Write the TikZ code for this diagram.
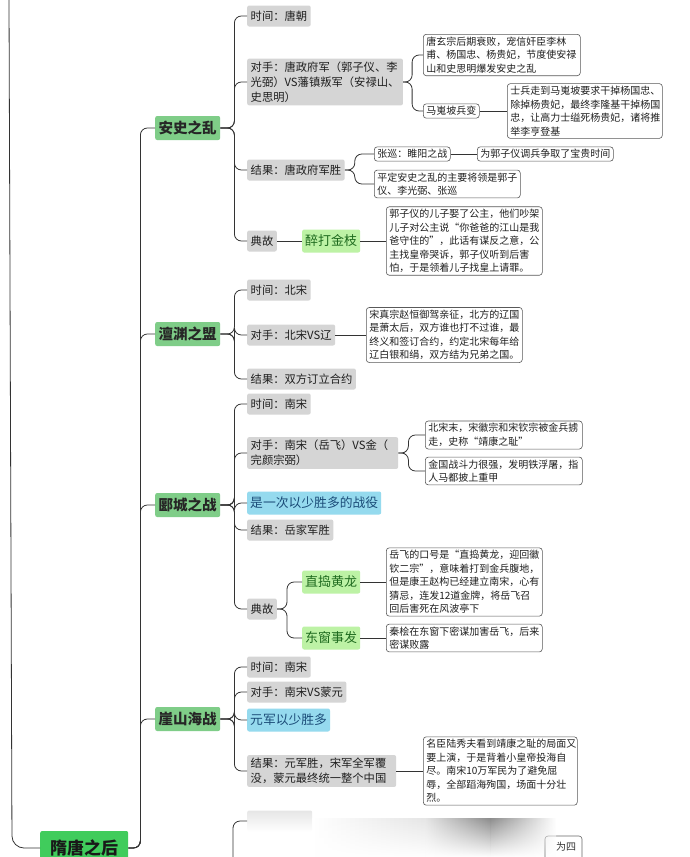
\documentclass[tikz,border=0pt]{standalone}
\usepackage{fontspec}
\usetikzlibrary{fadings}
\setmainfont{Noto Sans CJK SC}
\definecolor{tgreen}{HTML}{7FCD88}
\definecolor{rgreen}{HTML}{40CC5C}
\definecolor{lgreen}{HTML}{BDF2A5}
\definecolor{dgreen}{HTML}{1E6A1E}
\definecolor{lblue}{HTML}{95DAEE}
\definecolor{dblue}{HTML}{1B4C78}
\definecolor{lgray}{HTML}{D5D5D5}
\begin{document}
\begin{tikzpicture}[x=1pt,y=-1pt,
  conn/.style={draw=black!80, line width=0.8pt, rounded corners=7pt},
  title/.style={anchor=west, fill=tgreen, rounded corners=2pt, font=\fontsize{14.5}{16}\selectfont\bfseries, text=black!85, inner xsep=3.5pt, inner ysep=3pt, minimum height=24pt},
  rootbox/.style={anchor=west, fill=rgreen, rounded corners=2pt, font=\fontsize{17}{19}\selectfont\bfseries, text=black!90, inner xsep=10pt, minimum height=34pt},
  lbl/.style={anchor=west, fill=lgray, rounded corners=2pt, font=\fontsize{11.3}{15}\selectfont, text=black!88, align=left, inner xsep=3.5pt, inner ysep=3pt, minimum height=21pt},
  note/.style={anchor=west, draw=black!65, fill=white, rounded corners=3pt, line width=0.6pt, font=\fontsize{10}{13.5}\selectfont, text=black!88, align=left, inner xsep=3pt, inner ysep=2.5pt},
  sub/.style={anchor=west, fill=lgreen, rounded corners=2pt, font=\fontsize{13}{15}\selectfont, text=dgreen, inner sep=3pt, minimum height=23pt},
  hl/.style={anchor=west, fill=lblue, rounded corners=2pt, font=\fontsize{12.8}{15}\selectfont, text=dblue, inner sep=3pt, minimum height=23pt},
]
\useasboundingbox (0,0) rectangle (690,857);
\clip (0,0) rectangle (690,857);
\fill[white] (0,0) rectangle (690,857);

% root
\node[rootbox] (root) at (40,848) {隋唐之后};
\coordinate (top) at (9,0);
\draw[conn, rounded corners=12pt] (top) -- (12,848) -- (root.west);

% ===== 安史之乱 =====
\node[title] (ash) at (155,128) {安史之乱};
\node[lbl] (ash1) at (247,16) {时间：唐朝};
\node[lbl] (ash2) at (247,82) {对手：唐政府军（郭子仪、李\\光弼）VS藩镇叛军（安禄山、\\史思明）};
\node[lbl] (ash3) at (247,170) {结果：唐政府军胜};
\node[lbl] (ash4) at (247,241) {典故};
\node[note, text width=151pt] (a1) at (423,55) {唐玄宗后期衰败，宠信奸臣李林\\甫、杨国忠、杨贵妃，节度使安禄\\山和史思明爆发安史之乱};
\node[note] (a2) at (423,111) {马嵬坡兵变};
\node[note, text width=149pt] (a3) at (507,111) {士兵走到马嵬坡要求干掉杨国忠、\\除掉杨贵妃，最终李隆基干掉杨国\\忠，让高力士缢死杨贵妃，诸将推\\举李亨登基};
\node[note] (b1) at (374,154) {张巡：睢阳之战};
\node[note] (b2) at (477,154) {为郭子仪调兵争取了宝贵时间};
\node[note, text width=140pt] (b3) at (374,184) {平定安史之乱的主要将领是郭子\\仪、李光弼、张巡};
\node[sub] (c1) at (302,241) {醉打金枝};
\node[note, text width=150pt] (c2) at (386,241) {郭子仪的儿子娶了公主，他们吵架\\儿子对公主说“你爸爸的江山是我\\爸守住的”，此话有谋反之意，公\\主找皇帝哭诉，郭子仪听到后害\\怕，于是领着儿子找皇上请罪。};

% ===== 澶渊之盟 =====
\node[title] (cy) at (155,334) {澶渊之盟};
\node[lbl] (cy1) at (247,290) {时间：北宋};
\node[lbl] (cy2) at (247,335) {对手：北宋VS辽};
\node[lbl] (cy3) at (247,379) {结果：双方订立合约};
\node[note, text width=150pt] (d1) at (366,335) {宋真宗赵恒御驾亲征，北方的辽国\\是萧太后，双方谁也打不过谁，最\\终义和签订合约，约定北宋每年给\\辽白银和绢，双方结为兄弟之国。};

% ===== 郾城之战 =====
\node[title] (yc) at (155,505) {郾城之战};
\node[lbl] (yc1) at (247,404) {时间：南宋};
\node[lbl, text width=144pt] (yc2) at (247,453) {对手：南宋（岳飞）VS金（\\完颜宗弼）};
\node[hl] (yc3) at (247,503) {是一次以少胜多的战役};
\node[lbl] (yc4) at (247,530) {结果：岳家军胜};
\node[lbl] (yc5) at (247,609) {典故};
\node[note, text width=151pt] (e1) at (425,435) {北宋末，宋徽宗和宋钦宗被金兵掳\\走，史称“靖康之耻”};
\node[note, text width=151pt] (e2) at (425,471) {金国战斗力很强，发明铁浮屠，指\\人马都披上重甲};
\node[sub] (f1) at (302,582) {直捣黄龙};
\node[sub] (f2) at (302,638) {东窗事发};
\node[note, text width=150pt] (g1) at (386,582) {岳飞的口号是“直捣黄龙，迎回徽\\钦二宗”，意味着打到金兵腹地，\\但是康王赵构已经建立南宋，心有\\猜忌，连发12道金牌，将岳飞召\\回后害死在风波亭下};
\node[note, text width=150pt] (g2) at (386,638) {秦桧在东窗下密谋加害岳飞，后来\\密谋败露};

% ===== 崖山海战 =====
\node[title] (ys) at (155,719) {崖山海战};
\node[lbl] (ys1) at (247,667) {时间：南宋};
\node[lbl] (ys2) at (247,692) {对手：南宋VS蒙元};
\node[hl] (ys3) at (247,720) {元军以少胜多};
\node[lbl, text width=142pt] (ys4) at (247,771) {结果：元军胜，宋军全军覆\\没，蒙元最终统一整个中国};
\node[note, text width=148pt] (h1) at (423,771) {名臣陆秀夫看到靖康之耻的局面又\\要上演，于是背着小皇帝投海自\\尽。南宋10万军民为了避免屈\\辱，全部蹈海殉国，场面十分壮\\烈。};

% ===== blurred bottom part =====
\node[anchor=west, fill=lgray!60, rounded corners=2pt, minimum width=65pt, minimum height=21pt, inner sep=0pt, path fading=south] (blur1) at (247,821) {};
\coordinate (below) at (233,857);
\draw[conn] (below) |- (blur1.west);
\draw[black!60, line width=0.6pt, rounded corners=3pt] (545,880) -- (545,836) -- (582,836) -- (582,880);
\node[anchor=west, font=\fontsize{10}{12}\selectfont, text=black!80, inner sep=0pt] (blurtxt) at (556,847) {为四};
\shade[left color=white, right color=black!10, path fading=south] (312,818) rectangle (425,857);
\shade[left color=black!10, right color=black!45, path fading=south] (425,818) rectangle (490,857);
\shade[left color=black!45, right color=white, path fading=south] (490,818) rectangle (556,857);

% ===== connectors =====
\foreach \c in {ash,cy,yc,ys} \draw[conn] (root.east) -- ++(12,0) |- (\c.west);
\foreach \c in {ash1,ash2,ash3,ash4} \draw[conn] (ash.east) -- ++(14,0) |- (\c.west);
\foreach \c in {a1,a2} \draw[conn] (ash2.east) -- ++(9,0) |- (\c.west);
\draw[conn] (a2.east) -- (a3.west);
\foreach \c in {b1,b3} \draw[conn] (ash3.east) -- ++(10,0) |- (\c.west);
\draw[conn] (b1.east) -- (b2.west);
\draw[conn] (ash4.east) -- (c1.west);
\draw[conn] (c1.east) -- (c2.west);

\foreach \c in {cy1,cy2,cy3} \draw[conn] (cy.east) -- ++(14,0) |- (\c.west);
\draw[conn] (cy2.east) -- (d1.west);

\foreach \c in {yc1,yc2,yc3,yc4,yc5} \draw[conn] (yc.east) -- ++(14,0) |- (\c.west);
\foreach \c in {e1,e2} \draw[conn] (yc2.east) -- ++(10,0) |- (\c.west);
\foreach \c in {f1,f2} \draw[conn] (yc5.east) -- ++(10,0) |- (\c.west);
\draw[conn] (f1.east) -- (g1.west);
\draw[conn] (f2.east) -- (g2.west);

\foreach \c in {ys1,ys2,ys3,ys4} \draw[conn] (ys.east) -- ++(14,0) |- (\c.west);
\draw[conn] (ys4.east) -- (h1.west);
\end{tikzpicture}
\end{document}
